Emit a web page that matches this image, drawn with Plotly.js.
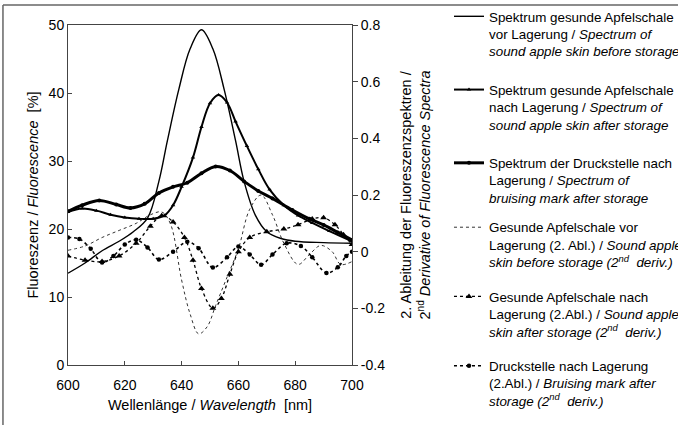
<!DOCTYPE html>
<html>
<head>
<meta charset="utf-8">
<script src="https://cdn.plot.ly/plotly-3.0.1.min.js"></script>
<style>html,body{margin:0;padding:0;background:#fff;}#chart{width:678px;height:425px;}</style>
</head>
<body>
<div id="chart"></div>
<script>
// Curve 1: sound apple skin before storage (spectrum, %)
var wl1 = [600,606,612,618,623,628,632,635,639,643,647,651,655,659,662,666,670,675,680,690,700];
var fl1 = [13.5,15,16.8,18.2,19.6,21.6,27,33,40.5,46.5,49.3,46.5,40.5,33,27,22,19.6,18.6,18.2,18,17.9];
// Curve 2: sound apple skin after storage (spectrum, %)
var wl2 = [600,605,610,615,620,625,630,634,637,640,644,647,650,653,656,659,663,667,671,676,681,686,692,700];
var fl2 = [22.5,23,22.7,22.1,21.7,21.5,21.5,22,23.5,26.2,30.5,35,38.5,39.7,38.6,35.8,32.2,28.8,25.8,23.5,22,20.9,19.7,18.2];
// Curve 3: bruising mark after storage (spectrum, %)
var wl3 = [600,605,611,617,622,627,632,637,642,647,652,657,662,667,672,679,685,690,695,700];
var fl3 = [22.6,23.5,24.2,23.6,23.1,23.7,25.3,26.2,26.8,28.2,29.2,28.6,27.0,25.6,24.5,22.8,21.5,20.6,19.5,18.4];
// Curve 4: sound apple skin before storage (2nd derivative)
var wl4 = [600,606,612,618,624,629,633,636,640,643,646,649,652,656,660,664,668,672,676,681,685,689,693,696,700];
var d4  = [0.005,0.02,0.05,0.075,0.1,0.13,0.14,0.1,-0.1,-0.22,-0.29,-0.265,-0.19,-0.09,0.01,0.15,0.2,0.13,0.03,-0.045,-0.01,0.022,0.0,-0.045,-0.035];
// Curve 5: sound apple skin after storage (2nd derivative)
var wl5 = [600,606,612,618,624,629,633,637,641,644,647,651,654,657,660,664,670,676,681,686,690,694,697,700];
var d5  = [-0.015,-0.03,-0.035,-0.015,0.03,0.09,0.127,0.105,0.05,-0.03,-0.13,-0.2,-0.165,-0.08,0.0,0.05,0.07,0.08,0.095,0.115,0.12,0.095,0.06,0.025];
// Curve 6: bruising mark after storage (2nd derivative)
var wl6 = [600,604,608,612,616,620,624,628,632,637,642,646,651,656,660,664,668,672,677,682,686,691,695,698,700];
var d6  = [0.05,0.045,0.01,-0.038,-0.015,0.025,0.042,0.015,-0.028,0.0,0.035,0.012,-0.056,-0.02,0.018,-0.01,-0.046,-0.01,0.03,0.02,-0.02,-0.075,-0.055,-0.015,0.0];

var legendNames = [
  "Spektrum gesunde Apfelschale<br>vor Lagerung / <i>Spectrum of</i><br><i>sound apple skin before storage</i>",
  "Spektrum gesunde Apfelschale<br>nach Lagerung / <i>Spectrum of</i><br><i>sound apple skin after storage</i>",
  "Spektrum der Druckstelle nach<br>Lagerung / <i>Spectrum of</i><br><i>bruising mark after storage</i>",
  "Gesunde Apfelschale vor<br>Lagerung (2. Abl.) / <i>Sound apple</i><br><i>skin before storage (2<sup>nd</sup>  deriv.)</i>",
  "Gesunde Apfelschale nach<br>Lagerung (2.Abl.) / <i>Sound apple</i><br><i>skin after storage (2<sup>nd</sup>  deriv.)</i>",
  "Druckstelle nach Lagerung<br>(2.Abl.) / <i>Bruising mark after</i><br><i>storage (2<sup>nd</sup>  deriv.)</i>"
];

var xTicks = [600,620,640,660,680,700];
var yTicks = [0,10,20,30,40,50];
var y2Ticks = [-0.4,-0.2,0,0.2,0.4,0.6,0.8];
var y2Labels = ["-0.4","-0.2","0","0.2","0.4","0.6","0.8"];

var FONT = "Liberation Sans, Arial, sans-serif";

var traces = [
  {x: wl1, y: fl1, name: legendNames[0], legendgroup: "g1", legend: "legend", mode: "lines",
   line: {color: "#000", width: 1.4, shape: "spline"}},
  {x: wl2, y: fl2, name: legendNames[1], legendgroup: "g2", legend: "legend", mode: "lines+markers",
   line: {color: "#000", width: 2, shape: "spline"},
   marker: {symbol: "triangle-up", size: 4, color: "#000"}},
  {x: wl3, y: fl3, name: legendNames[2], legendgroup: "g3", legend: "legend", mode: "lines+markers",
   line: {color: "#000", width: 3, shape: "spline"},
   marker: {symbol: "circle", size: 4, color: "#000"}},
  {x: wl4, y: d4, name: legendNames[3], legendgroup: "g4", legend: "legend2", yaxis: "y2", mode: "lines",
   line: {color: "#333", width: 1, dash: "dot", shape: "spline"}},
  {x: wl5, y: d5, name: legendNames[4], legendgroup: "g5", legend: "legend2", yaxis: "y2", mode: "lines+markers",
   line: {color: "#000", width: 1.3, dash: "dot", shape: "spline"},
   marker: {symbol: "triangle-up", size: 6, color: "#000"}},
  {x: wl6, y: d6, name: legendNames[5], legendgroup: "g6", legend: "legend2", yaxis: "y2", mode: "lines+markers",
   line: {color: "#000", width: 1.6, dash: "dot", shape: "spline"},
   marker: {symbol: "circle", size: 4.5, color: "#000"}}
];

var legendCommon = {xanchor: "left", yanchor: "top",
  font: {family: FONT, size: 13.4, color: "#000"},
  valign: "top", bgcolor: "rgba(0,0,0,0)"};

var layout = {
  width: 678, height: 425,
  margin: {l: 68, r: 326, t: 25, b: 60, pad: 0, autoexpand: false},
  paper_bgcolor: "#fff", plot_bgcolor: "#fff",
  font: {family: FONT, color: "#000", size: 13},
  showlegend: true,
  legend: Object.assign({x: 1.3415, y: 1.0703, tracegroupgap: 18}, legendCommon),
  legend2: Object.assign({x: 1.3415, y: 0.45, tracegroupgap: 14}, legendCommon),
  xaxis: {range: [600, 700], tickvals: xTicks, ticks: "inside", ticklen: 4,
          showline: true, linecolor: "#444", linewidth: 1, mirror: true,
          showgrid: false, zeroline: false, tickfont: {size: 14}, ticklabelstandoff: 7,
          title: {text: "Wellenlänge / <i>Wavelength</i>  [nm]", font: {size: 14.5}, standoff: 8}},
  yaxis: {range: [0, 50], tickvals: yTicks, ticks: "inside", ticklen: 4,
          showline: true, linecolor: "#444", linewidth: 1,
          showgrid: false, zeroline: false, tickfont: {size: 14},
          title: {text: "Fluoreszenz / <i>Fluorescence</i>  [%]", font: {size: 14.5}, standoff: 6}},
  yaxis2: {overlaying: "y", side: "right", range: [-0.4, 0.8],
           tickvals: y2Ticks, ticktext: y2Labels, ticks: "outside", ticklen: 5,
           showline: true, linecolor: "#444", linewidth: 1,
           showgrid: false, zeroline: false, tickfont: {size: 14},
           title: {text: "2. Ableitung der Fluoreszenzspektren /<br>2<sup>nd</sup> <i>Derivative of Fluorescence Spectra</i>", font: {size: 14.5}, standoff: 16}},
  shapes: [
    {type: "line", xref: "paper", yref: "paper", x0: -0.229, x1: 2.2, y0: 1.0588, y1: 1.0588,
     line: {color: "#666", width: 1.5}},
    {type: "line", xref: "paper", yref: "paper", x0: -0.229, x1: -0.229, y0: 1.0588, y1: -0.18,
     line: {color: "#666", width: 1.5}}
  ]
};

Plotly.newPlot("chart", traces, layout, {displayModeBar: false, staticPlot: true});
</script>
</body>
</html>
